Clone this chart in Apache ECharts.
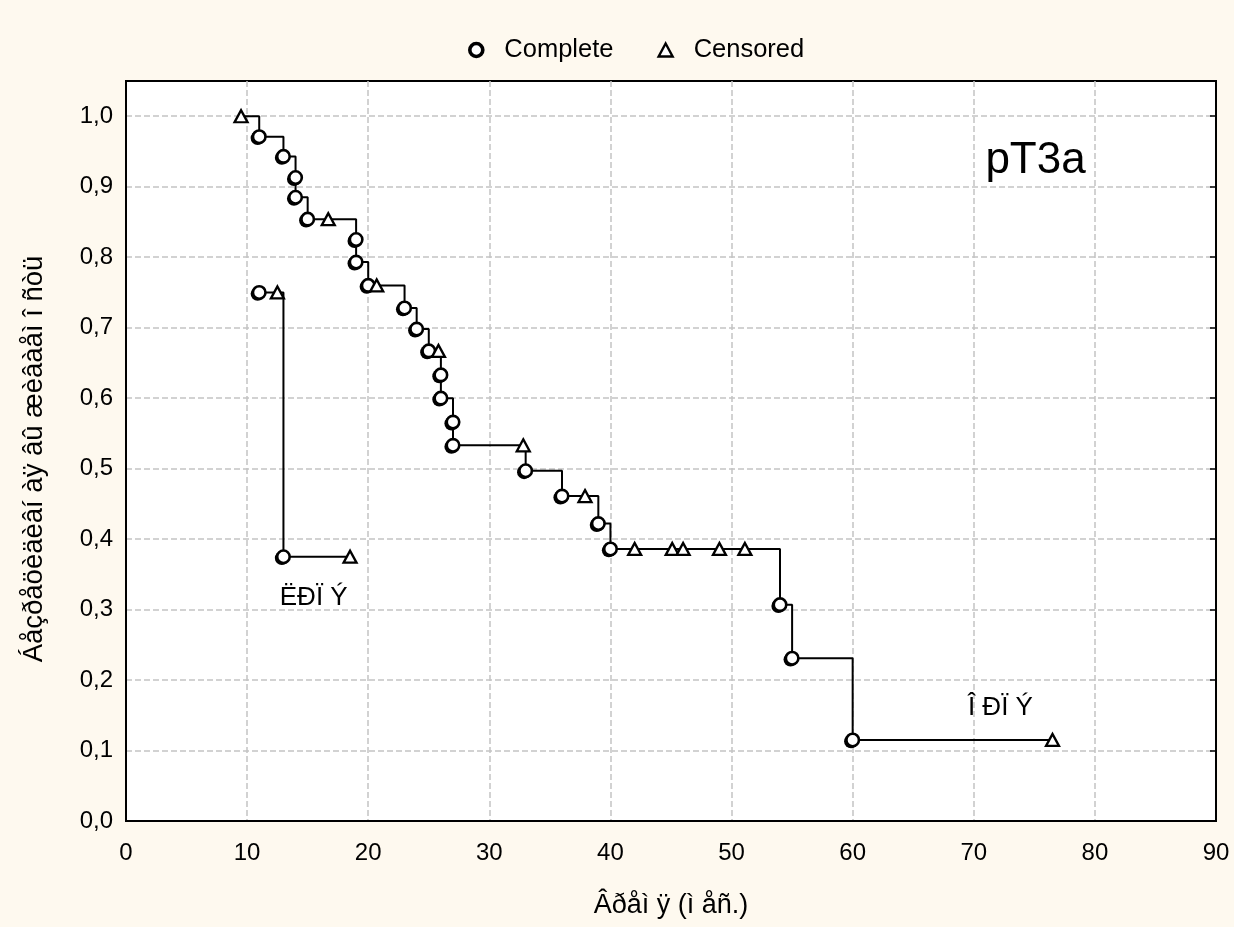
<!DOCTYPE html>
<html>
<head>
<meta charset="utf-8">
<script src="https://cdn.jsdelivr.net/npm/echarts@6/dist/echarts.min.js"></script>
<style>
  html, body { margin: 0; padding: 0; background: #fef9ef; }
  #chart { width: 1234px; height: 927px; }
</style>
</head>
<body>
<div id="chart"></div>
<script>
// Kaplan–Meier estimates: time (months), survival, status (1 = event, 0 = censored)
const pT3aTime   = [9.5, 11, 13, 14, 14, 15, 16.7, 19, 19, 20, 20.7, 23, 24, 25, 25.8, 26, 26, 27, 27, 32.8, 33, 36, 37.9, 39, 40, 42, 45.1, 46, 49, 51.1, 54, 55, 60, 76.5];
const pT3aSurv   = [1.0, 0.971, 0.943, 0.913, 0.885, 0.854, 0.854, 0.825, 0.793, 0.760, 0.760, 0.728, 0.698, 0.667, 0.667, 0.633, 0.600, 0.566, 0.533, 0.533, 0.497, 0.461, 0.461, 0.422, 0.386, 0.386, 0.386, 0.386, 0.386, 0.386, 0.307, 0.231, 0.115, 0.115];
const pT3aStatus = [0, 1, 1, 1, 1, 1, 0, 1, 1, 1, 0, 1, 1, 1, 0, 1, 1, 1, 1, 0, 1, 1, 0, 1, 1, 0, 0, 0, 0, 0, 1, 1, 1, 0];

const lrpTime   = [11, 12.5, 13, 18.5];
const lrpSurv   = [0.75, 0.75, 0.375, 0.375];
const lrpStatus = [1, 0, 1, 0];

// Text notes placed in data coordinates
const noteText = ['pT3a', 'ËÐÏ Ý', 'Î ÐÏ Ý'];
const noteX    = [75.1, 15.5, 72.2];
const noteY    = [0.936, 0.316, 0.160];
const noteSize = [44, 26, 26];

// Axis tick values
const xTicks = [0, 10, 20, 30, 40, 50, 60, 70, 80, 90];
const yTicks = [0.0, 0.1, 0.2, 0.3, 0.4, 0.5, 0.6, 0.7, 0.8, 0.9, 1.0];

const FONT = '"Liberation Sans", Arial, sans-serif';

function pairs(t, s) { return t.map((v, i) => [v, s[i]]); }
function pick(t, s, st, flag) {
  const out = [];
  t.forEach((v, i) => { if (st[i] === flag) out.push([v, s[i]]); });
  return out;
}

const completePts = pick(pT3aTime, pT3aSurv, pT3aStatus, 1).concat(pick(lrpTime, lrpSurv, lrpStatus, 1));
const censoredPts = pick(pT3aTime, pT3aSurv, pT3aStatus, 0).concat(pick(lrpTime, lrpSurv, lrpStatus, 0));

function isTick(v, list) {
  return list.some(t => Math.abs(t - v) < 1e-6);
}

const chart = echarts.init(document.getElementById('chart'), null, { renderer: 'canvas' });

const stepLine = {
  type: 'line',
  step: 'end',
  showSymbol: false,
  silent: true,
  lineStyle: { color: '#000', width: 2 },
  z: 2
};

const gridLine = { show: true, showMaxLine: false, lineStyle: { color: '#c4c4c4', width: 1.5, type: [6, 3] } };

chart.setOption({
  backgroundColor: '#fef9ef',
  animation: false,
  textStyle: { fontFamily: FONT },
  grid: {
    left: 126, right: 18, top: 81, bottom: 106,
    show: true, backgroundColor: '#fff', borderColor: '#000', borderWidth: 2
  },
  legend: {
    left: 463, top: 32,
    itemWidth: 14, itemHeight: 13, itemGap: 44,
    data: [
      { name: 'Complete', icon: 'circle',
        itemStyle: { color: '#fff', borderColor: '#000', borderWidth: 3.6, opacity: 1 } },
      { name: 'Censored', icon: 'triangle',
        itemStyle: { color: '#fff', borderColor: '#000', borderWidth: 2.4, opacity: 1 } }
    ],
    textStyle: { fontSize: 25.5, color: '#000', fontFamily: FONT, padding: [0, 0, 0, 16] },
    selectedMode: false
  },
  xAxis: {
    type: 'value', min: 0, max: 90, interval: 10,
    name: 'Âðåì ÿ (ì åñ.)',
    nameLocation: 'middle', nameGap: 71,
    nameTextStyle: { fontSize: 27, color: '#000', fontFamily: FONT },
    axisLine: { show: true, lineStyle: { color: '#000', width: 2 } },
    axisTick: { show: false },
    axisLabel: {
      fontSize: 24, color: '#000', margin: 20, fontFamily: FONT,
      formatter: v => isTick(v, xTicks) ? String(v) : ''
    },
    splitLine: gridLine
  },
  yAxis: [{
    type: 'value', min: 0, max: 1.05, interval: 0.1,
    name: 'Áåçðåöèäèâí àÿ âû æèâàåì î ñòü',
    nameLocation: 'middle', nameGap: 78, nameRotate: 90,
    nameTextStyle: { fontSize: 27.5, color: '#000', fontFamily: FONT, padding: [0, 16, 0, 0] },
    axisLine: { show: true, lineStyle: { color: '#000', width: 2 } },
    axisTick: { show: false },
    axisLabel: {
      fontSize: 24, color: '#000', margin: 13, fontFamily: FONT,
      formatter: v => isTick(v, yTicks) ? v.toFixed(1).replace('.', ',') : ''
    },
    splitLine: gridLine
  }, {
    type: 'value', min: 0, max: 1.05, interval: 0.1, position: 'right',
    axisLine: { show: true, lineStyle: { color: '#000', width: 2 } },
    axisTick: { show: true, inside: true, length: 6, lineStyle: { color: '#000', width: 1.5 } },
    axisLabel: { show: false },
    splitLine: { show: false }
  }],
  series: [
    Object.assign({ name: 'pT3a curve', data: pairs(pT3aTime, pT3aSurv) }, stepLine),
    Object.assign({ name: 'LRP curve', data: pairs(lrpTime, lrpSurv) }, stepLine),
    {
      // heavy lower-left rim under each event marker
      name: 'Complete rim', type: 'scatter', data: completePts, silent: true,
      symbol: 'circle', symbolSize: 14, symbolOffset: [-1.6, 1.4], z: 3,
      itemStyle: { color: '#000', opacity: 1 }
    },
    {
      name: 'Complete', type: 'scatter', data: completePts,
      symbol: 'circle', symbolSize: 12.5, z: 4,
      itemStyle: { color: '#fff', borderColor: '#000', borderWidth: 2.6, opacity: 1 }
    },
    {
      name: 'Censored', type: 'scatter', data: censoredPts,
      symbol: 'triangle', symbolSize: [13, 12], z: 4,
      itemStyle: { color: '#fff', borderColor: '#000', borderWidth: 2.3, opacity: 1 }
    },
    {
      name: 'notes', type: 'scatter', silent: true, z: 5,
      symbolSize: 0,
      itemStyle: { opacity: 1 },
      data: noteText.map((t, i) => ({
        name: t, value: [noteX[i], noteY[i]],
        label: { fontSize: noteSize[i] }
      })),
      label: {
        show: true, position: [0, 0], align: 'center', verticalAlign: 'middle',
        color: '#000', fontFamily: FONT,
        formatter: p => p.name
      }
    }
  ]
});
</script>
</body>
</html>
